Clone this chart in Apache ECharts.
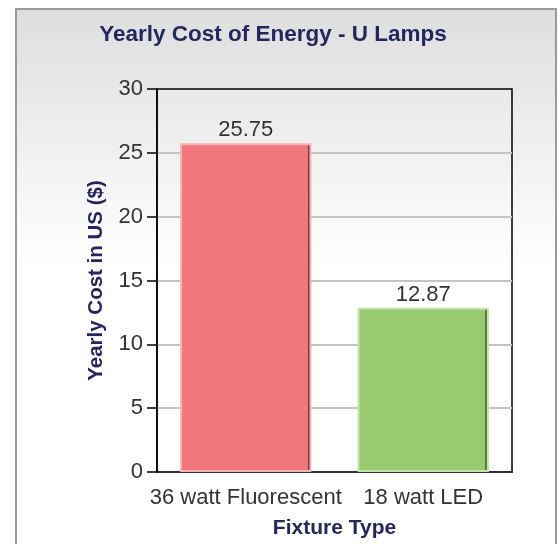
<!DOCTYPE html>
<html>
<head>
<meta charset="utf-8">
<script src="https://cdn.jsdelivr.net/npm/echarts@6/dist/echarts.min.js"></script>
<style>
  html, body { margin: 0; padding: 0; background: #fff; }
  #chart { width: 558px; height: 544px; }
</style>
</head>
<body>
<div id="chart"></div>
<script>
// data
const categories = ['36 watt Fluorescent', '18 watt LED'];
const costs = [25.75, 12.87];
const barColors = ['#f2777b', '#98cb70'];
const barBorders = ['#f9b2b2', '#c3e2a6'];
const barEdges = ['#6a3a3c', '#4e7a3a'];

const navy = '#26265f';

const chart = echarts.init(document.getElementById('chart'));

// flat fill with a thin dark stripe near the right edge
const barFill = (c, edge) => new echarts.graphic.LinearGradient(0, 0, 1, 0, [
  { offset: 0, color: c },
  { offset: 0.972, color: c },
  { offset: 0.972, color: edge },
  { offset: 0.988, color: edge },
  { offset: 0.988, color: c },
  { offset: 1, color: c }
]);

const option = {
  animation: false,
  backgroundColor: '#fff',
  graphic: [
    {
      type: 'rect',
      z: -10,
      shape: { x: 16, y: 9, width: 540, height: 540 },
      style: {
        fill: new echarts.graphic.LinearGradient(0, 0, 0, 1, [
          { offset: 0, color: '#dedede' },
          { offset: 0.48, color: '#ffffff' },
          { offset: 1, color: '#ffffff' }
        ]),
        stroke: '#9a9a9a',
        lineWidth: 2
      }
    }
  ],
  title: {
    text: 'Yearly Cost of Energy - U Lamps',
    left: 268,
    top: 18,
    textAlign: 'center',
    textStyle: {
      fontFamily: 'Liberation Sans',
      fontSize: 22.5,
      fontWeight: 'bold',
      color: navy
    }
  },
  grid: {
    left: 157,
    right: 46,
    top: 89,
    bottom: 71,
    show: true,
    borderColor: '#000',
    borderWidth: 1.5,
    backgroundColor: 'transparent'
  },
  xAxis: {
    type: 'category',
    data: categories,
    name: 'Fixture Type',
    nameLocation: 'middle',
    nameGap: 46,
    nameTextStyle: {
      fontFamily: 'Liberation Sans',
      fontSize: 21,
      fontWeight: 'bold',
      color: navy
    },
    axisLine: { lineStyle: { color: '#000', width: 1.5 } },
    axisTick: { alignWithLabel: true, length: 8, lineStyle: { color: '#000', width: 1.5 } },
    axisLabel: {
      interval: 0,
      fontFamily: 'Liberation Sans',
      fontSize: 22,
      color: '#333',
      margin: 15
    }
  },
  yAxis: {
    type: 'value',
    min: 0,
    max: 30,
    interval: 5,
    name: 'Yearly Cost in US ($)',
    nameLocation: 'middle',
    nameGap: 50,
    nameTextStyle: {
      fontFamily: 'Liberation Sans',
      fontSize: 20.5,
      fontWeight: 'bold',
      color: navy
    },
    axisLine: { show: true, lineStyle: { color: '#000', width: 1.5 } },
    axisTick: { show: true, length: 10, lineStyle: { color: '#000', width: 1.5 } },
    axisLabel: {
      fontFamily: 'Liberation Sans',
      fontSize: 22,
      color: '#333',
      margin: 14
    },
    splitLine: { showMaxLine: false, lineStyle: { color: '#c4c4c4', width: 2 } }
  },
  series: [
    {
      type: 'bar',
      barWidth: '74%',
      data: costs.map((v, i) => ({
        value: v,
        itemStyle: {
          color: barFill(barColors[i], barEdges[i]),
          borderColor: barBorders[i],
          borderWidth: 2
        }
      })),
      label: {
        show: true,
        position: 'top',
        distance: 2,
        fontFamily: 'Liberation Sans',
        fontSize: 22,
        color: '#333',
        formatter: p => p.value.toFixed(2)
      }
    }
  ]
};

chart.setOption(option);
</script>
</body>
</html>
